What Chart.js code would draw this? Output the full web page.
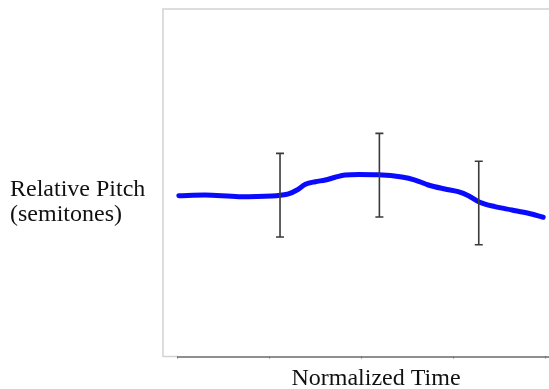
<!DOCTYPE html>
<html>
<head>
<meta charset="utf-8">
<script src="https://cdn.jsdelivr.net/npm/chart.js@4/dist/chart.umd.min.js"></script>
<style>
  html, body { margin: 0; padding: 0; background: #fff; overflow: hidden; }
  #wrap { position: relative; width: 549px; height: 389px; }
</style>
</head>
<body>
<div id="wrap"><canvas id="c" width="549" height="389"></canvas></div>
<script>
// Mean pitch contour over normalized time (0–100 %), in semitones
const timePoints = [0.5, 7.6, 16.8, 25.8, 28.1, 30.3, 32.6, 34.9, 37.6, 40.3, 43.0, 45.7, 49.4, 54.7, 61.1, 64.7, 68.3, 72.8, 76.4, 79.2, 82.3, 86.4, 91.0, 95.5, 99.5];
const pitchValues = [-0.146, -0.138, -0.157, -0.149, -0.141, -0.126, -0.080, -0.015, 0.015, 0.034, 0.066, 0.092, 0.098, 0.095, 0.069, 0.034, -0.023, -0.069, -0.100, -0.146, -0.222, -0.272, -0.310, -0.348, -0.394];

// Error bars at three measurement points: position, mean, half-range
const errorTimes = [28, 55, 82];
const errorMeans = [-0.14, 0.09, -0.23];
const errorHalf = [0.48, 0.48, 0.48];

// Time axis tick positions
const timeTicks = [0, 25, 50, 75, 100];

const yLabelLines = ['Relative Pitch', '(semitones)'];
const xLabel = 'Normalized Time';

const contour = timePoints.map((t, i) => ({ x: t, y: pitchValues[i] }));

const frameAndLabels = {
  id: 'frameAndLabels',
  beforeDatasetsDraw(chart) {
    const { ctx, chartArea: a, scales: { x, y } } = chart;
    ctx.save();
    // light plot frame
    ctx.strokeStyle = '#d2d2d2';
    ctx.lineWidth = 1.5;
    ctx.beginPath();
    ctx.moveTo(a.left, a.bottom);
    ctx.lineTo(a.left, a.top);
    ctx.lineTo(a.right + 2, a.top);
    ctx.stroke();
    ctx.beginPath();
    ctx.moveTo(a.left, a.bottom - 0.5);
    ctx.lineTo(x.getPixelForValue(0), a.bottom - 0.5);
    ctx.stroke();
    // time axis line
    ctx.strokeStyle = '#8e8e8e';
    ctx.lineWidth = 2;
    ctx.beginPath();
    ctx.moveTo(x.getPixelForValue(0), a.bottom);
    ctx.lineTo(a.right + 2, a.bottom);
    ctx.stroke();
    ctx.strokeStyle = '#777';
    ctx.lineWidth = 1;
    timeTicks.forEach(t => {
      const px = Math.round(x.getPixelForValue(t)) + 0.5;
      ctx.beginPath();
      ctx.moveTo(px, a.bottom - 1);
      ctx.lineTo(px, a.bottom + 1.5);
      ctx.stroke();
    });
    ctx.restore();
  },
  afterDatasetsDraw(chart) {
    const { ctx, scales: { x, y } } = chart;
    ctx.save();
    // error bars
    ctx.strokeStyle = '#3a3a3a';
    ctx.lineWidth = 1.6;
    errorTimes.forEach((t, i) => {
      const px = x.getPixelForValue(t);
      const top = y.getPixelForValue(errorMeans[i] + errorHalf[i]);
      const bot = y.getPixelForValue(errorMeans[i] - errorHalf[i]);
      ctx.beginPath();
      ctx.moveTo(px, top);
      ctx.lineTo(px, bot);
      ctx.moveTo(px - 4, top);
      ctx.lineTo(px + 4, top);
      ctx.moveTo(px - 4, bot);
      ctx.lineTo(px + 4, bot);
      ctx.stroke();
    });
    // axis labels
    ctx.fillStyle = '#111';
    ctx.font = '24px "Liberation Serif", "Times New Roman", serif';
    ctx.textAlign = 'left';
    ctx.textBaseline = 'alphabetic';
    ctx.fillText(yLabelLines[0], 10, 196);
    ctx.fillText(yLabelLines[1], 10, 221);
    ctx.textAlign = 'center';
    ctx.fillText(xLabel, 376, 385);
    ctx.restore();
  }
};

new Chart(document.getElementById('c'), {
  type: 'line',
  data: {
    datasets: [{
      data: contour,
      borderColor: '#0a0aff',
      borderWidth: 5,
      borderCapStyle: 'round',
      borderJoinStyle: 'round',
      pointRadius: 0,
      tension: 0.4,
      cubicInterpolationMode: 'monotone',
      fill: false
    }]
  },
  options: {
    responsive: false,
    animation: false,
    events: [],
    layout: { padding: { left: 163, top: 9, right: 0, bottom: 32 } },
    plugins: { legend: { display: false }, tooltip: { enabled: false } },
    scales: {
      x: { type: 'linear', min: -3.8, max: 101.09, display: false },
      y: { type: 'linear', min: -2, max: 2, display: false }
    }
  },
  plugins: [frameAndLabels]
});
</script>
</body>
</html>
